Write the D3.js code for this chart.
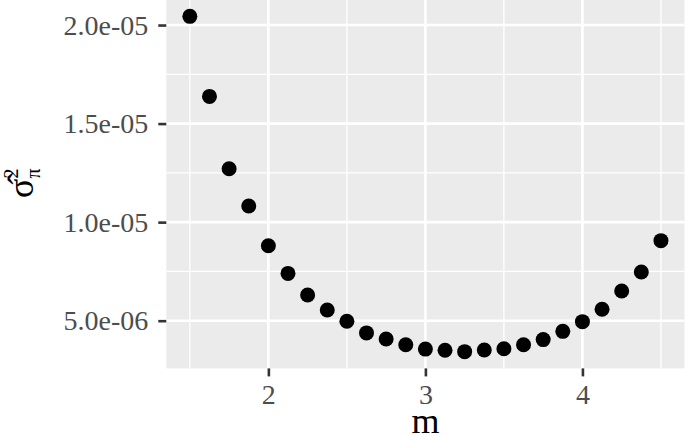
<!DOCTYPE html>
<html>
<head>
<meta charset="utf-8">
<script src="https://cdn.jsdelivr.net/npm/d3@7"></script>
<style>
  body { margin: 0; background: #fff; }
  svg text { font-family: "Liberation Serif", "DejaVu Serif", serif; }
</style>
</head>
<body>
<div id="wrapper"></div>
<script>
// m values and the estimated variance at each
const mValues = [1.5, 1.625, 1.75, 1.875, 2, 2.125, 2.25, 2.375, 2.5, 2.625, 2.75, 2.875,
    3, 3.125, 3.25, 3.375, 3.5, 3.625, 3.75, 3.875, 4, 4.125, 4.25, 4.375, 4.5];
const sigmaValues = [2.044e-5, 1.638e-5, 1.271e-5, 1.082e-5, 8.80e-6, 7.40e-6, 6.30e-6, 5.54e-6,
    4.97e-6, 4.38e-6, 4.07e-6, 3.78e-6, 3.56e-6, 3.50e-6, 3.43e-6, 3.51e-6, 3.58e-6, 3.78e-6,
    4.04e-6, 4.46e-6, 4.95e-6, 5.58e-6, 6.51e-6, 7.47e-6, 9.06e-6];

const xTicks = [2, 3, 4];
const xMinor = [1.5, 2.5, 3.5, 4.5];
const yTicks = [5e-6, 1e-5, 1.5e-5, 2e-5];
const yTickLabels = ["5.0e-06", "1.0e-05", "1.5e-05", "2.0e-05"];
const yMinor = [7.5e-6, 1.25e-5, 1.75e-5];

const dataset = mValues.map((m, i) => ({ m: m, s: sigmaValues[i] }));

const dimensions = {
    width: 685,
    height: 436,
    panel: { left: 166.3, right: 684.5, top: -0.4, bottom: 368.4 }
};

const wrapper = d3.select("#wrapper")
    .append("svg")
    .attr("width", dimensions.width)
    .attr("height", dimensions.height);

// ggplot style 5% expansion
const expand = ext => {
    const pad = (ext[1] - ext[0]) * 0.05;
    return [ext[0] - pad, ext[1] + pad];
};

const xScaler = d3.scaleLinear()
    .domain(expand(d3.extent(mValues)))
    .range([dimensions.panel.left, dimensions.panel.right]);

const yScaler = d3.scaleLinear()
    .domain(expand(d3.extent(sigmaValues)))
    .range([dimensions.panel.bottom, dimensions.panel.top]);

const p = dimensions.panel;

wrapper.append("rect")
    .attr("x", p.left)
    .attr("y", 0)
    .attr("width", p.right - p.left)
    .attr("height", p.bottom)
    .attr("fill", "#ebebeb");

const grid = wrapper.append("g");

grid.selectAll(".xminor").data(xMinor).join("line")
    .attr("x1", d => xScaler(d)).attr("x2", d => xScaler(d))
    .attr("y1", 0).attr("y2", p.bottom)
    .attr("stroke", "#fff").attr("stroke-width", 1.3);

grid.selectAll(".yminor").data(yMinor).join("line")
    .attr("x1", p.left).attr("x2", p.right)
    .attr("y1", d => yScaler(d)).attr("y2", d => yScaler(d))
    .attr("stroke", "#fff").attr("stroke-width", 1.3);

grid.selectAll(".xmajor").data(xTicks).join("line")
    .attr("x1", d => xScaler(d)).attr("x2", d => xScaler(d))
    .attr("y1", 0).attr("y2", p.bottom)
    .attr("stroke", "#fff").attr("stroke-width", 2.6);

grid.selectAll(".ymajor").data(yTicks).join("line")
    .attr("x1", p.left).attr("x2", p.right)
    .attr("y1", d => yScaler(d)).attr("y2", d => yScaler(d))
    .attr("stroke", "#fff").attr("stroke-width", 2.6);

wrapper.append("g").selectAll("circle")
    .data(dataset)
    .join("circle")
    .attr("cx", d => xScaler(d.m))
    .attr("cy", d => yScaler(d.s))
    .attr("r", 7.5)
    .attr("fill", "#000");

// axes
const xAxisGen = d3.axisBottom(xScaler)
    .tickValues(xTicks)
    .tickSize(8)
    .tickPadding(8)
    .tickFormat(d3.format("d"));
const xAxis = wrapper.append("g")
    .attr("transform", `translate(0,${p.bottom})`)
    .call(xAxisGen);

const yAxisGen = d3.axisLeft(yScaler)
    .tickValues(yTicks)
    .tickSize(8)
    .tickPadding(10)
    .tickFormat((d, i) => yTickLabels[i]);
const yAxis = wrapper.append("g")
    .attr("transform", `translate(${p.left},0)`)
    .call(yAxisGen);

[xAxis, yAxis].forEach(ax => {
    ax.select(".domain").remove();
    ax.selectAll(".tick line").attr("stroke", "#333").attr("stroke-width", 2.6);
    ax.selectAll(".tick text")
        .attr("fill", "#4d4d4d")
        .attr("font-size", "28px")
        .attr("font-family", "Liberation Serif, DejaVu Serif, serif");
});

const xLabel = wrapper.append("text")
    .attr("x", (p.left + p.right) / 2)
    .attr("y", 433)
    .attr("text-anchor", "middle")
    .attr("font-size", "36px")
    .attr("fill", "#000")
    .text("m");

const yLabel = wrapper.append("text")
    .attr("transform", "translate(33,198) rotate(-90)")
    .attr("font-size", "36px")
    .attr("fill", "#000");
yLabel.append("tspan").text("\u03c3\u0302");
yLabel.append("tspan").attr("font-size", "20px").attr("dy", -15).text("2");
yLabel.append("tspan").attr("font-size", "20px").attr("dx", -10).attr("dy", 22).text("\u03c0");
</script>
</body>
</html>
